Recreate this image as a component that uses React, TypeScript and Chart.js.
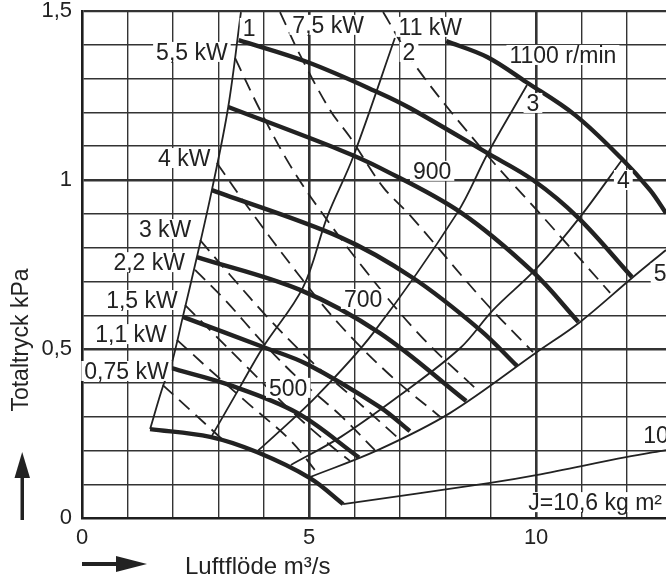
import { useEffect, useRef } from 'react';
import { Chart, registerables } from 'chart.js';

Chart.register(...registerables);

type P = [number, number];

// Axis ranges / labelled ticks
const xMin = 0;
const xMax = 12.86;
const yMin = 0;
const yMax = 1.5;
const xLabelled = [0, 5, 10];
const yLabelled = [0, 0.5, 1, 1.5];

// Fan speed curves (r/min), thick
const rpm1100: P[] = [[8.02, 1.411], [8.92, 1.364], [9.78, 1.29], [10.86, 1.192], [11.87, 1.065], [12.51, 0.97], [12.86, 0.902]];
const rpm1000: P[] = [[3.45, 1.414], [4.96, 1.349], [6.56, 1.257], [7.22, 1.213], [8.92, 1.08], [9.93, 1.0], [10.93, 0.888], [12.11, 0.713]];
const rpm900: P[] = [[3.22, 1.216], [5.68, 1.089], [6.56, 1.036], [8.33, 0.905], [9.93, 0.728], [10.93, 0.58]];
const rpm800: P[] = [[2.86, 0.97], [5.68, 0.831], [7.29, 0.71], [8.77, 0.556], [9.58, 0.45]];
const rpm700: P[] = [[2.53, 0.772], [4.8, 0.675], [6.56, 0.547], [8.46, 0.346]];
const rpm600: P[] = [[2.22, 0.595], [3.99, 0.506], [4.96, 0.455], [6.56, 0.328], [7.22, 0.257]];
const rpm500: P[] = [[1.95, 0.444], [3.26, 0.393], [4.74, 0.311], [6.1, 0.179]];
const rpm400: P[] = [[1.5, 0.263], [2.82, 0.24], [3.85, 0.195], [5.02, 0.118], [5.75, 0.041]];

// Numbered system lines, thin solid
const line1: P[] = [[1.5, 0.263], [1.79, 0.393], [1.95, 0.444], [2.22, 0.595], [2.53, 0.772], [2.86, 0.97], [3.22, 1.216], [3.5, 1.497]];
const line2: P[] = [[2.86, 0.243], [3.48, 0.388], [3.99, 0.506], [4.87, 0.683], [5.4, 0.891], [5.97, 1.068], [6.89, 1.42]];
const line3: P[] = [[3.88, 0.2], [4.14, 0.231], [5.18, 0.362], [6.41, 0.547], [8.26, 0.902], [8.94, 1.08], [9.8, 1.281]];
const line4: P[] = [[4.6, 0.157], [5.7, 0.24], [7.0, 0.363], [8.33, 0.503], [9.05, 0.615], [10.02, 0.74], [10.97, 0.891], [11.89, 1.059]];
const line5: P[] = [[5.02, 0.121], [6.5, 0.2], [8.11, 0.311], [10.02, 0.491], [10.97, 0.58], [12.11, 0.71], [12.86, 0.793]];
const line10: P[] = [[5.75, 0.041], [8.99, 0.104], [10.0, 0.127], [11.98, 0.18], [12.86, 0.201]];

// Motor power lines (kW), dashed
const kw11: P[] = [[6.63, 1.497], [7.38, 1.331], [8.92, 1.074], [10.15, 0.891], [11.63, 0.666]];
const kw7_5: P[] = [[4.36, 1.497], [4.8, 1.37], [5.46, 1.207], [5.9, 1.127], [6.63, 0.979], [7.22, 0.896], [8.83, 0.645], [9.93, 0.491]];
const kw5_5: P[] = [[3.37, 1.361], [3.92, 1.207], [4.58, 1.044], [5.24, 0.911], [6.23, 0.734], [7.44, 0.541], [8.77, 0.37]];
const kw4: P[] = [[2.97, 1.05], [3.7, 0.911], [4.74, 0.725], [5.68, 0.571], [6.78, 0.423], [7.89, 0.299]];
const kw3: P[] = [[2.6, 0.822], [3.26, 0.719], [4.14, 0.586], [5.02, 0.467], [5.9, 0.364], [6.96, 0.237]];
const kw2_2: P[] = [[2.49, 0.734], [3.15, 0.645], [4.03, 0.512], [4.8, 0.408], [5.68, 0.305], [6.45, 0.201]];
const kw1_5: P[] = [[2.27, 0.63], [2.93, 0.541], [3.81, 0.423], [4.58, 0.32], [5.46, 0.216], [5.9, 0.169]];
const kw1_1: P[] = [[2.09, 0.527], [2.82, 0.438], [3.7, 0.334], [4.58, 0.231], [5.2, 0.13]];
const kw0_75: P[] = [[1.78, 0.393], [2.38, 0.32], [3.15, 0.225]];

// In-plot labels (data coordinates)
const labelTexts = ['1', '7,5 kW', '11 kW', '5,5 kW', '2', '1100 r/min', '3', '4 kW', '900', '4', '3 kW', '2,2 kW', '1,5 kW', '1,1 kW', '0,75 kW', '700', '500', '5', 'J=10,6 kg m²', '10'];
const labelX = [3.68, 5.42, 7.67, 2.42, 7.2, 10.59, 9.93, 2.25, 7.71, 11.92, 1.83, 1.48, 1.32, 1.08, 0.98, 6.19, 4.54, 12.73, 11.3, 12.36];
const labelY = [1.45, 1.459, 1.453, 1.379, 1.379, 1.37, 1.228, 1.065, 1.027, 1.0, 0.855, 0.757, 0.645, 0.544, 0.435, 0.648, 0.385, 0.725, 0.047, 0.246];
const labelAlign = ['c', 'c', 'c', 'c', 'c', 'c', 'c', 'c', 'c', 'c', 'c', 'c', 'c', 'c', 'c', 'c', 'c', 'c', 'c', 'l'];

const xTitle = 'Luftflöde m³/s';
const yTitle = 'Totaltryck kPa';

const FONT = '"Liberation Sans", Arial, Helvetica, sans-serif';
const INK = '#222222';
const GRID = '#333333';

const near = (v: number, list: number[]) => list.some((t) => Math.abs(t - v) < 1e-6);

const overlay = {
  id: 'overlay',
  beforeDraw(chart: any) {
    const ctx = chart.ctx;
    ctx.save();
    ctx.fillStyle = '#ffffff';
    ctx.fillRect(0, 0, chart.width, chart.height);
    ctx.restore();
  },
  afterDatasetsDraw(chart: any) {
    const ctx = chart.ctx;
    const xs = chart.scales.x;
    const ys = chart.scales.y;
    ctx.save();
    ctx.font = `23px ${FONT}`;
    ctx.textAlign = 'left';
    ctx.textBaseline = 'alphabetic';
    for (let i = 0; i < labelTexts.length; i++) {
      const t = labelTexts[i];
      const px = xs.getPixelForValue(labelX[i]);
      const py = ys.getPixelForValue(labelY[i]);
      const w = ctx.measureText(t).width;
      const left = labelAlign[i] === 'l' ? px : px - w / 2;
      ctx.fillStyle = '#ffffff';
      ctx.fillRect(left - 3, py - 10, w + 6, 20);
      ctx.fillStyle = INK;
      ctx.fillText(t, left, py + 8);
    }
    ctx.restore();
  },
  afterDraw(chart: any) {
    const ctx = chart.ctx;
    ctx.save();
    ctx.fillStyle = INK;
    ctx.font = `23px ${FONT}`;
    // y title
    ctx.save();
    ctx.translate(28, 340);
    ctx.rotate(-Math.PI / 2);
    ctx.textAlign = 'center';
    ctx.textBaseline = 'alphabetic';
    ctx.fillText(yTitle, 0, 0);
    ctx.restore();
    // x title
    ctx.font = `24px ${FONT}`;
    ctx.textAlign = 'left';
    ctx.textBaseline = 'alphabetic';
    ctx.fillText(xTitle, 185, 574);
    // up arrow
    ctx.fillRect(20.5, 474, 3.5, 46);
    ctx.beginPath();
    ctx.moveTo(22.2, 452);
    ctx.lineTo(14.5, 478);
    ctx.lineTo(30, 478);
    ctx.closePath();
    ctx.fill();
    // right arrow
    ctx.fillRect(82, 562, 38, 4);
    ctx.beginPath();
    ctx.moveTo(147, 564);
    ctx.lineTo(116, 556);
    ctx.lineTo(116, 572);
    ctx.closePath();
    ctx.fill();
    ctx.restore();
  },
};

function ds(points: P[], width: number, dashed: boolean) {
  return {
    data: points.map(([x, y]) => ({ x, y })),
    showLine: true,
    borderColor: INK,
    backgroundColor: INK,
    borderWidth: width,
    borderDash: dashed ? [14, 8] : [],
    borderCapStyle: 'butt',
    pointRadius: 0,
    pointHoverRadius: 0,
    tension: 0.35,
    fill: false,
  };
}

export default function App() {
  const ref = useRef<HTMLCanvasElement | null>(null);

  useEffect(() => {
    if (!ref.current) return;
    const thick = [rpm1100, rpm1000, rpm900, rpm800, rpm700, rpm600, rpm500, rpm400];
    const thin = [line1, line2, line3, line4, line5, line10];
    const dash = [kw11, kw7_5, kw5_5, kw4, kw3, kw2_2, kw1_5, kw1_1, kw0_75];
    const datasets: any[] = [
      ...dash.map((p) => ds(p, 1.8, true)),
      ...thin.map((p) => ds(p, 1.8, false)),
      ...thick.map((p) => ds(p, 4.4, false)),
    ];
    const chart = new Chart(ref.current, {
      type: 'scatter',
      data: { datasets },
      plugins: [overlay],
      options: {
        responsive: false,
        animation: false,
        devicePixelRatio: 1,
        layout: { padding: { top: 11, left: 0, right: 0, bottom: 0 } },
        plugins: { legend: { display: false }, tooltip: { enabled: false } },
        events: [],
        scales: {
          x: {
            type: 'linear',
            min: xMin,
            max: xMax,
            afterFit: (s: any) => {
              s.height = 60;
              s.paddingLeft = 0;
              s.paddingRight = 0;
            },
            ticks: {
              stepSize: 1,
              maxTicksLimit: 100,
              includeBounds: false,
              autoSkip: false,
              maxRotation: 0,
              padding: 7,
              color: INK,
              font: { family: FONT, size: 22 },
              callback: (v: any) => (near(Number(v), xLabelled) ? String(Math.round(Number(v))) : ''),
            },
            grid: {
              drawTicks: false,
              color: GRID,
              lineWidth: (c: any) => (c.tick && near(c.tick.value, [5, 10]) ? 2.6 : 1.4),
            },
            border: { display: true, width: 2.6, color: '#1e1e1e' },
          },
          y: {
            type: 'linear',
            min: yMin,
            max: yMax,
            afterFit: (s: any) => {
              s.width = 82;
              s.paddingTop = 0;
              s.paddingBottom = 0;
            },
            ticks: {
              stepSize: 0.1,
              maxTicksLimit: 100,
              autoSkip: false,
              padding: 10,
              color: INK,
              font: { family: FONT, size: 22 },
              callback: (v: any) => {
                const n = Number(v);
                if (!near(n, yLabelled)) return '';
                return String(Math.round(n * 10) / 10).replace('.', ',');
              },
            },
            grid: {
              drawTicks: false,
              color: GRID,
              lineWidth: (c: any) => {
                if (!c.tick) return 1.4;
                if (near(c.tick.value, [0.5, 1])) return 2.6;
                if (near(c.tick.value, [1.5])) return 2.2;
                return 1.4;
              },
            },
            border: { display: true, width: 2.6, color: '#1e1e1e' },
          },
        },
      } as any,
    });
    return () => chart.destroy();
  }, []);

  return (
    <div style={{ position: 'absolute', left: 0, top: 0, width: 666, height: 578, background: '#fff' }}>
      <canvas ref={ref} width={666} height={578} style={{ display: 'block', width: 666, height: 578 }} />
    </div>
  );
}
